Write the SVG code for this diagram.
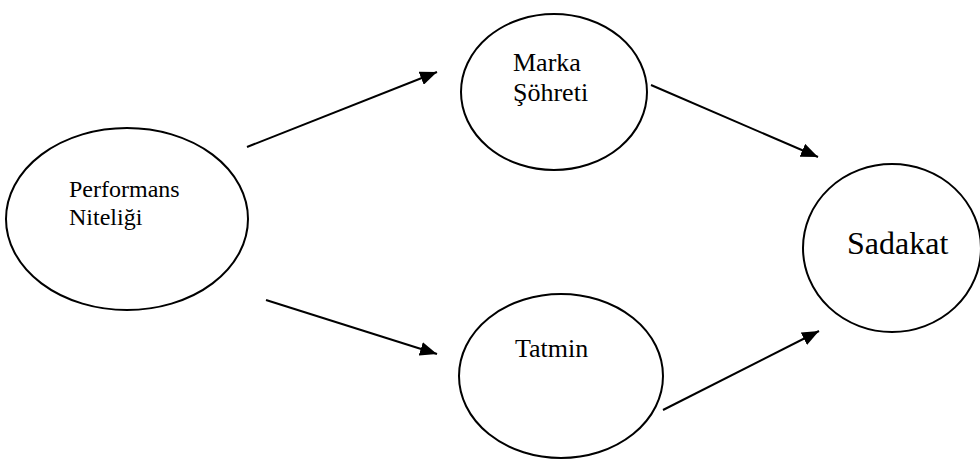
<svg xmlns="http://www.w3.org/2000/svg" width="980" height="465" viewBox="0 0 980 465">
  <style>
    .node { fill: #ffffff; stroke: #000000; stroke-width: 2; }
    .label { font-family: "Liberation Serif", "Times New Roman", serif; fill: #000000; }
    .edge { stroke: #000000; stroke-width: 2; fill: none; marker-end: url(#arrow); }
  </style>
  <defs>
    <marker id="arrow" markerUnits="userSpaceOnUse" markerWidth="18" markerHeight="14" refX="17" refY="7" orient="auto">
      <path d="M0,0 L17,7 L0,14 Z" fill="#000000"/>
    </marker>
  </defs>
  <rect width="980" height="465" fill="#ffffff"/>

  <g id="performans">
    <ellipse class="node" cx="127" cy="219" rx="121" ry="91"/>
    <text class="label" x="69" y="197" font-size="24">Performans</text>
    <text class="label" x="69" y="225" font-size="24">Niteliği</text>
  </g>

  <g id="marka">
    <ellipse class="node" cx="554" cy="92" rx="93" ry="78"/>
    <text class="label" x="513" y="71" font-size="26">Marka</text>
    <text class="label" x="513" y="101" font-size="26">Şöhreti</text>
  </g>

  <g id="tatmin">
    <ellipse class="node" cx="561" cy="376" rx="102" ry="82"/>
    <text class="label" x="515" y="357" font-size="26">Tatmin</text>
  </g>

  <g id="sadakat">
    <ellipse class="node" cx="892" cy="248" rx="89" ry="84"/>
    <text class="label" x="847" y="254" font-size="32">Sadakat</text>
  </g>

  <g id="connectors">
    <line class="edge" x1="247" y1="147" x2="437" y2="72"/>
    <line class="edge" x1="266" y1="300" x2="437" y2="354"/>
    <line class="edge" x1="651" y1="85" x2="818" y2="157"/>
    <line class="edge" x1="663" y1="410" x2="819" y2="331"/>
  </g>
</svg>
